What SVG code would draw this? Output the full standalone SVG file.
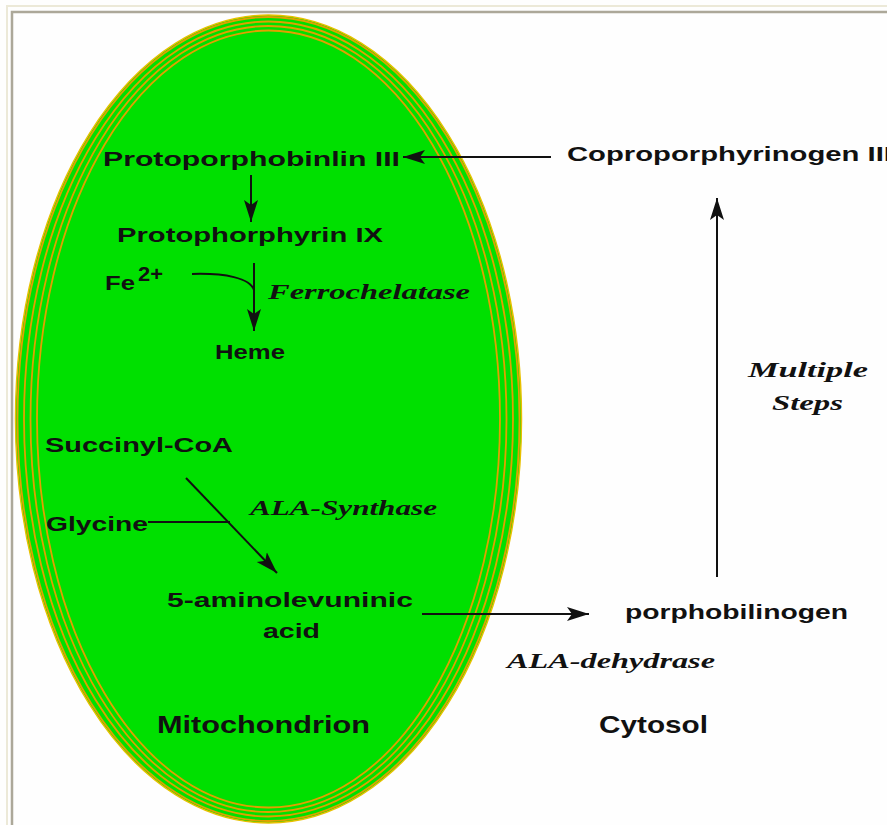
<svg xmlns="http://www.w3.org/2000/svg" width="887" height="825" viewBox="0 0 887 825">
<style>
.t{font-family:"Liberation Sans","DejaVu Sans",sans-serif;font-weight:bold;font-size:21px;fill:#111}
.e{font-family:"Liberation Serif","DejaVu Serif",serif;font-weight:bold;font-style:italic;font-size:22px;fill:#111}
.h{font-family:"Liberation Sans","DejaVu Sans",sans-serif;font-weight:bold;font-size:24px;fill:#111}
.ln{stroke:#111;stroke-width:2;fill:none}
.ring{fill:none;stroke:#e0a000;stroke-width:1.8}
</style>
<defs>
<marker id="ah" markerUnits="userSpaceOnUse" markerWidth="24" markerHeight="16" viewBox="0 -8 24 16" refX="22" refY="0" orient="auto">
<path d="M0,-7 L22,0 L0,7 L5,0 z" fill="#111"/>
</marker>
</defs>
<rect x="0" y="0" width="887" height="825" fill="#fefefe"/>
<g id="frame">
<path d="M7,825 V6 H887" fill="none" stroke="#ece9d8" stroke-width="2"/>
<path d="M12,825 V12 H887" fill="none" stroke="#aca899" stroke-width="2.5"/>
</g>
<g id="mitochondrion">
<ellipse cx="268.5" cy="419" rx="253" ry="404" fill="#00e000" stroke="#e8c000" stroke-width="1.5"/>
<ellipse class="ring" cx="268.5" cy="419" rx="251" ry="402"/>
<ellipse class="ring" cx="268.5" cy="419" rx="244.5" ry="397.5"/>
<ellipse class="ring" cx="268.5" cy="419" rx="238" ry="393"/>
<ellipse class="ring" cx="268.5" cy="419" rx="231.5" ry="388.5"/>
</g>
<g id="connectors">
<line class="ln" x1="551" y1="157" x2="403" y2="157" marker-end="url(#ah)"/>
<line class="ln" x1="251" y1="175" x2="251" y2="222" marker-end="url(#ah)"/>
<line class="ln" x1="254" y1="263" x2="254" y2="331" marker-end="url(#ah)"/>
<path class="ln" d="M192,274 C225,273 250,278 254,290" stroke-width="1.5"/>
<line class="ln" x1="186" y1="478" x2="277" y2="573" stroke-width="1.5" marker-end="url(#ah)"/>
<line class="ln" x1="148" y1="522" x2="230" y2="522" stroke-width="1.5"/>
<line class="ln" x1="422" y1="614" x2="589" y2="614" marker-end="url(#ah)"/>
<line class="ln" x1="717" y1="577" x2="717" y2="198" marker-end="url(#ah)"/>
</g>
<g id="protoporphobinlin"><text class="t" x="103" y="166" textLength="297" lengthAdjust="spacingAndGlyphs">Protoporphobinlin III</text></g>
<g id="coproporphyrinogen"><text class="t" x="567" y="161" textLength="325" lengthAdjust="spacingAndGlyphs">Coproporphyrinogen III</text></g>
<g id="protophorphyrin"><text class="t" x="117" y="242" textLength="266" lengthAdjust="spacingAndGlyphs">Protophorphyrin IX</text></g>
<g id="fe"><text class="t" x="105" y="290" textLength="30" lengthAdjust="spacingAndGlyphs">Fe</text><text class="t" x="138" y="281" font-size="17" textLength="25" lengthAdjust="spacingAndGlyphs">2+</text></g>
<g id="ferrochelatase"><text class="e" x="268" y="299" textLength="202" lengthAdjust="spacingAndGlyphs">Ferrochelatase</text></g>
<g id="heme"><text class="t" x="215" y="359" textLength="70" lengthAdjust="spacingAndGlyphs">Heme</text></g>
<g id="succinyl"><text class="t" x="45" y="452" textLength="188" lengthAdjust="spacingAndGlyphs">Succinyl-CoA</text></g>
<g id="glycine"><text class="t" x="46" y="531" textLength="102" lengthAdjust="spacingAndGlyphs">Glycine</text></g>
<g id="alasynthase"><text class="e" x="250" y="515" textLength="187" lengthAdjust="spacingAndGlyphs">ALA-Synthase</text></g>
<g id="ala"><text class="t" x="167" y="607" textLength="246" lengthAdjust="spacingAndGlyphs">5-aminolevuninic</text><text class="t" x="263" y="638" textLength="57" lengthAdjust="spacingAndGlyphs">acid</text></g>
<g id="porphobilinogen"><text class="t" x="625" y="619" textLength="223" lengthAdjust="spacingAndGlyphs">porphobilinogen</text></g>
<g id="aladehydrase"><text class="e" x="507" y="668" textLength="208" lengthAdjust="spacingAndGlyphs">ALA-dehydrase</text></g>
<g id="multiple"><text class="e" x="748" y="377" textLength="120" lengthAdjust="spacingAndGlyphs">Multiple</text><text class="e" x="772" y="410" textLength="71" lengthAdjust="spacingAndGlyphs">Steps</text></g>
<g id="mito-label"><text class="h" x="157" y="733" textLength="213" lengthAdjust="spacingAndGlyphs">Mitochondrion</text></g>
<g id="cytosol"><text class="h" x="599" y="733" textLength="109" lengthAdjust="spacingAndGlyphs">Cytosol</text></g>
</svg>
